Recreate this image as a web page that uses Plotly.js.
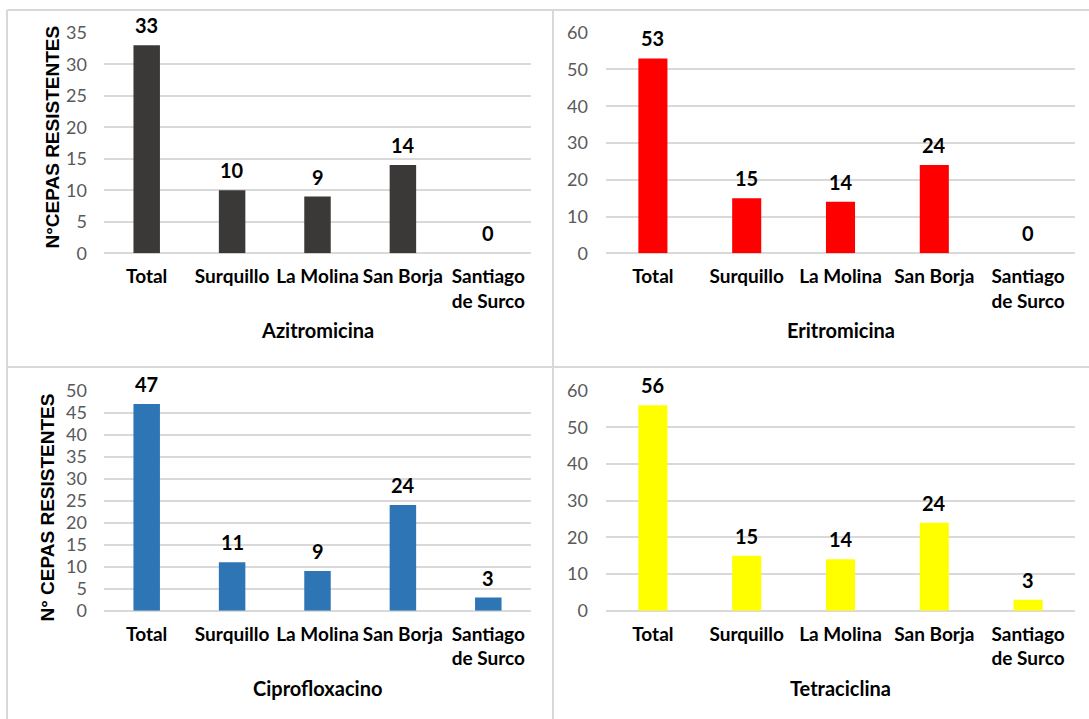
<!DOCTYPE html>
<html>
<head>
<meta charset="utf-8">
<script src="https://cdn.plot.ly/plotly-3.0.1.min.js"></script>
<style>html,body{margin:0;padding:0;background:#fff;}#chart{width:1089px;height:719px;}</style>
</head>
<body>
<div id="chart"></div>
<script>
// ---- data ----
const categories = ["Total", "Surquillo", "La Molina", "San Borja", "Santiago<br>de Surco"];
const azitromicina = [33, 10, 9, 14, 0];
const eritromicina = [53, 15, 14, 24, 0];
const ciprofloxacino = [47, 11, 9, 24, 3];
const tetraciclina = [56, 15, 14, 24, 3];
const panelTitles = ["Azitromicina", "Eritromicina", "Ciprofloxacino", "Tetraciclina"];
const yTitles = ["N°CEPAS RESISTENTES", "N° CEPAS RESISTENTES"];
const yTicks1 = [0, 5, 10, 15, 20, 25, 30, 35];
const yTicks2 = [0, 10, 20, 30, 40, 50, 60];
const yTicks3 = [0, 5, 10, 15, 20, 25, 30, 35, 40, 45, 50];
const yTicks4 = [0, 10, 20, 30, 40, 50, 60];

// ---- layout helpers ----
const W = 1089, H = 719;
const px = v => v / W;
const py = v => 1 - v / H;

const series = [azitromicina, eritromicina, ciprofloxacino, tetraciclina];
const colors = ["#3b3838", "#ff0000", "#2e75b6", "#ffff00"];
const yTickSets = [yTicks1, yTicks2, yTicks3, yTicks4];
const yRanges = [[0, 35], [0, 60], [0, 50], [0, 60]];
const xDomains = [[104, 531], [606, 1075], [104, 531], [606, 1075]];
const yDomains = [[253.3, 32.7], [253.3, 32.7], [610.7, 390.7], [610.7, 390.7]];
const titleY = [330, 330, 688, 688];

const FONT = "Lato, 'Open Sans', sans-serif";
const traces = [];
const layout = {
  width: W, height: H,
  margin: {l: 0, r: 0, t: 0, b: 0},
  paper_bgcolor: "#ffffff",
  plot_bgcolor: "#ffffff",
  showlegend: false,
  bargap: 0.69,
  annotations: [],
  shapes: []
};

for (let p = 0; p < 4; p++) {
  const sfx = p === 0 ? "" : String(p + 1);
  traces.push({
    type: "bar",
    x: categories,
    y: series[p],
    xaxis: "x" + sfx,
    yaxis: "y" + sfx,
    marker: {color: colors[p]},
    hoverinfo: "skip",
    cliponaxis: false
  });
  layout["xaxis" + sfx] = {
    domain: [px(xDomains[p][0]), px(xDomains[p][1])],
    anchor: "y" + sfx,
    type: "category",
    range: [-0.5, 4.5],
    showgrid: false,
    zeroline: false,
    showline: false,
    ticks: "",
    ticklabelstandoff: 10,
    tickfont: {family: FONT, size: 19, color: "#000000", weight: 700},
    fixedrange: true
  };
  layout["yaxis" + sfx] = {
    domain: [py(yDomains[p][0]), py(yDomains[p][1])],
    anchor: "x" + sfx,
    range: yRanges[p],
    tickmode: "array",
    tickvals: yTickSets[p],
    ticktext: yTickSets[p].map(String),
    showgrid: true,
    gridcolor: "#d9d9d9",
    gridwidth: 2,
    zeroline: true,
    zerolinecolor: "#d9d9d9",
    zerolinewidth: 2,
    showline: false,
    ticks: "",
    ticklabelstandoff: p % 2 === 0 ? 16 : 17,
    tickfont: {family: FONT, size: 18, color: "#595959"},
    fixedrange: true
  };
  // value labels above bars
  series[p].forEach((v, i) => {
    layout.annotations.push({
      xref: "x" + sfx, yref: "y" + sfx,
      x: categories[i], y: v,
      text: String(v),
      showarrow: false,
      yanchor: "middle",
      yshift: 20,
      font: {family: FONT, size: 20, color: "#000000", weight: 700}
    });
  });
  // panel (x-axis) titles
  layout.annotations.push({
    xref: "paper", yref: "paper",
    x: px((xDomains[p][0] + xDomains[p][1]) / 2),
    y: py(titleY[p]),
    text: panelTitles[p],
    showarrow: false,
    xanchor: "center", yanchor: "middle",
    font: {family: FONT, size: 20, color: "#000000", weight: 700}
  });
}

// y-axis titles (left panels)
layout.annotations.push({
  xref: "paper", yref: "paper",
  x: px(52), y: py(137.5),
  text: yTitles[0], textangle: -90, showarrow: false,
  xanchor: "center", yanchor: "middle",
  font: {family: "'Liberation Sans', Arial, sans-serif", size: 19, color: "#000000", weight: 700}
});
layout.annotations.push({
  xref: "paper", yref: "paper",
  x: px(47), y: py(507.5),
  text: yTitles[1], textangle: -90, showarrow: false,
  xanchor: "center", yanchor: "middle",
  font: {family: "'Liberation Sans', Arial, sans-serif", size: 19, color: "#000000", weight: 700}
});

// panel border lines
const lineStyle = {color: "#d9d9d9", width: 2};
layout.shapes.push(
  {type: "line", xref: "paper", yref: "paper", x0: px(7), x1: 1, y0: py(10), y1: py(10), line: lineStyle},
  {type: "line", xref: "paper", yref: "paper", x0: px(7), x1: px(7), y0: py(10), y1: 0, line: lineStyle},
  {type: "line", xref: "paper", yref: "paper", x0: px(553), x1: px(553), y0: py(10), y1: 0, line: lineStyle},
  {type: "line", xref: "paper", yref: "paper", x0: px(7), x1: 1, y0: py(367), y1: py(367), line: lineStyle}
);

Plotly.newPlot("chart", traces, layout, {staticPlot: true, displayModeBar: false});
</script>
</body>
</html>
